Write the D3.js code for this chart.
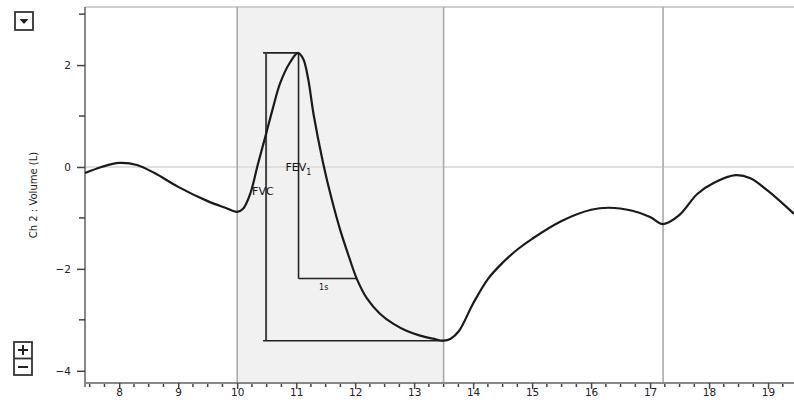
<!DOCTYPE html>
<html><head><meta charset="utf-8">
<script src="https://cdn.jsdelivr.net/npm/d3@7"></script>
<style>body{margin:0;background:#fff}svg{display:block}</style>
</head><body>
<svg id="c" width="794" height="410"></svg>
<script>
// ---- data ----
const time = [7.42,7.7,8.0,8.3,8.6,9.0,9.5,9.8,10.0,10.1,10.22,10.35,10.49,10.6,10.73,10.9,11.03,11.12,11.2,11.3,11.46,11.6,11.75,11.9,12.03,12.2,12.42,12.65,12.88,13.1,13.32,13.5,13.62,13.76,14.0,14.25,14.5,14.75,15.0,15.5,16.0,16.3,16.7,17.0,17.22,17.5,17.8,18.1,18.45,18.7,19.0,19.44];
const volume = [-0.12,0.0,0.08,0.04,-0.12,-0.39,-0.67,-0.8,-0.88,-0.82,-0.53,0.05,0.65,1.13,1.65,2.06,2.24,2.12,1.75,1.0,0.06,-0.62,-1.25,-1.78,-2.2,-2.58,-2.88,-3.08,-3.22,-3.31,-3.37,-3.41,-3.37,-3.22,-2.68,-2.2,-1.88,-1.62,-1.41,-1.06,-0.84,-0.8,-0.86,-0.98,-1.12,-0.94,-0.53,-0.3,-0.16,-0.22,-0.47,-0.92];
const xTicks = [8,9,10,11,12,13,14,15,16,17,18,19];
const yTicks = [-4,-2,0,2];
const yMinorTicks = [-3,-1,1,3];
const markerTimes = [10,13.5,17.22];
const shadeRange = [10,13.5];
const fvcTime = 10.49, peakValue = 2.24, peakTime = 11.04, troughTime = 13.5, troughValue = -3.41;
const fev1Value = -2.19, fev1End = 12.03;
const yLabel = "Ch 2 : Volume (L)";

// ---- layout ----
const svg = d3.select("#c");
const L = 85, R = 794, T = 7, B = 383;
const x = d3.scaleLinear().domain([7.42,19.44]).range([L,R]);
const y = d3.scaleLinear().domain([-4.24,3.14]).range([B,T]);
const font = "'DejaVu Sans', Verdana, sans-serif";

// shaded region
svg.append("rect").attr("x",x(shadeRange[0])).attr("y",T).attr("width",x(shadeRange[1])-x(shadeRange[0])).attr("height",B-T).attr("fill","#f1f1f1");
// top border
svg.append("line").attr("x1",L).attr("x2",R).attr("y1",T).attr("y2",T).attr("stroke","#cfcfcf").attr("stroke-width",2);
// zero line
svg.append("line").attr("x1",L).attr("x2",R).attr("y1",y(0)).attr("y2",y(0)).attr("stroke","#dedede").attr("stroke-width",2);
// marker lines
svg.selectAll(".mk").data(markerTimes).enter().append("line")
  .attr("x1",d=>x(d)).attr("x2",d=>x(d)).attr("y1",T).attr("y2",B)
  .attr("stroke","#a8aba8").attr("stroke-width",1.6);

// axes
const xMinor = d3.range(7.5,19.45,0.25).filter(v=>Math.abs(v-Math.round(v))>1e-6);
const gx = svg.append("g").attr("transform",`translate(0,${B})`);
gx.call(d3.axisBottom(x).tickValues(xTicks).tickSize(6).tickFormat(d3.format("d")));
gx.append("g").selectAll("line").data(xMinor).enter().append("line")
  .attr("x1",d=>x(d)).attr("x2",d=>x(d)).attr("y1",1).attr("y2",4).attr("stroke","#444").attr("stroke-width",1.5);
gx.select(".domain").attr("stroke","#888").attr("stroke-width",2).attr("d",`M${L},0H${R}`);
gx.selectAll(".tick line").attr("stroke","#444").attr("stroke-width",1.5);
gx.selectAll(".tick text").attr("font-family",font).attr("font-size",10.5).attr("fill","#222").attr("dy","0.9em").attr("y",4);

const gy = svg.append("g").attr("transform",`translate(${L},0)`);
gy.call(d3.axisLeft(y).tickValues(yTicks).tickSize(8).tickPadding(6).tickFormat(d3.format("d")));
gy.select(".domain").attr("stroke","#888").attr("stroke-width",2).attr("d",`M0,${T}V${B+4}`);
gy.selectAll(".tick line").attr("stroke","#444").attr("stroke-width",1.5);
gy.selectAll(".tick text").attr("font-family",font).attr("font-size",10.5).attr("fill","#222");
gy.append("g").selectAll("line").data(yMinorTicks).enter().append("line")
  .attr("x1",-6).attr("x2",0).attr("y1",d=>y(d)).attr("y2",d=>y(d)).attr("stroke","#444").attr("stroke-width",1.5);

svg.append("text").attr("transform",`translate(37,${(T+B)/2}) rotate(-90)`).attr("text-anchor","middle")
  .attr("font-family",font).attr("font-size",10).attr("fill","#222").text(yLabel);

// annotations
const ann = svg.append("g").attr("stroke","#222").attr("stroke-width",1.6).attr("fill","none");
ann.append("line").attr("x1",x(fvcTime)-3).attr("x2",x(peakTime)).attr("y1",y(peakValue)).attr("y2",y(peakValue));
ann.append("line").attr("x1",x(fvcTime)).attr("x2",x(fvcTime)).attr("y1",y(peakValue)).attr("y2",y(troughValue)).attr("stroke","#444").attr("stroke-width",2);
ann.append("line").attr("x1",x(fvcTime)-3).attr("x2",x(troughTime)).attr("y1",y(troughValue)).attr("y2",y(troughValue));
ann.append("line").attr("x1",x(peakTime)).attr("x2",x(peakTime)).attr("y1",y(peakValue)).attr("y2",y(fev1Value));
ann.append("line").attr("x1",x(peakTime)).attr("x2",x(fev1End)).attr("y1",y(fev1Value)).attr("y2",y(fev1Value));

// curve
svg.append("path").datum(time.map((t,i)=>[t,volume[i]]))
  .attr("d",d3.line().x(d=>x(d[0])).y(d=>y(d[1])).curve(d3.curveCatmullRom.alpha(0.5)))
  .attr("fill","none").attr("stroke","#1a1a1a").attr("stroke-width",2.2);

// labels
const tf = svg.append("g").attr("font-family",font).attr("fill","#111");
tf.append("text").attr("x",x(fvcTime)-14).attr("y",y(-0.55)).attr("font-size",11).text("FVC");
const fev = tf.append("text").attr("x",x(peakTime)-13).attr("y",y(-0.08)).attr("font-size",11);
fev.append("tspan").text("FEV");
fev.append("tspan").attr("font-size",8).attr("dy",4).text("1");
tf.append("text").attr("x",(x(peakTime)+x(fev1End))/2-4).attr("y",y(fev1Value)+11).attr("font-size",8).attr("text-anchor","middle").text("1s");

// buttons
const btn = svg.append("g").attr("fill","#fff").attr("stroke","#333").attr("stroke-width",1.8);
btn.append("rect").attr("x",15).attr("y",12).attr("width",18).attr("height",18);
svg.append("path").attr("d","M19.5,19 L28.5,19 L24,24 Z").attr("fill","#222");
btn.append("rect").attr("x",14).attr("y",342).attr("width",18).attr("height",33);
btn.append("line").attr("x1",14).attr("x2",32).attr("y1",358.5).attr("y2",358.5);
const sym = svg.append("g").attr("stroke","#222").attr("stroke-width",2);
sym.append("line").attr("x1",18).attr("x2",28).attr("y1",350).attr("y2",350);
sym.append("line").attr("x1",23).attr("x2",23).attr("y1",345).attr("y2",355);
sym.append("line").attr("x1",18).attr("x2",28).attr("y1",367).attr("y2",367);
</script>
</body></html>
